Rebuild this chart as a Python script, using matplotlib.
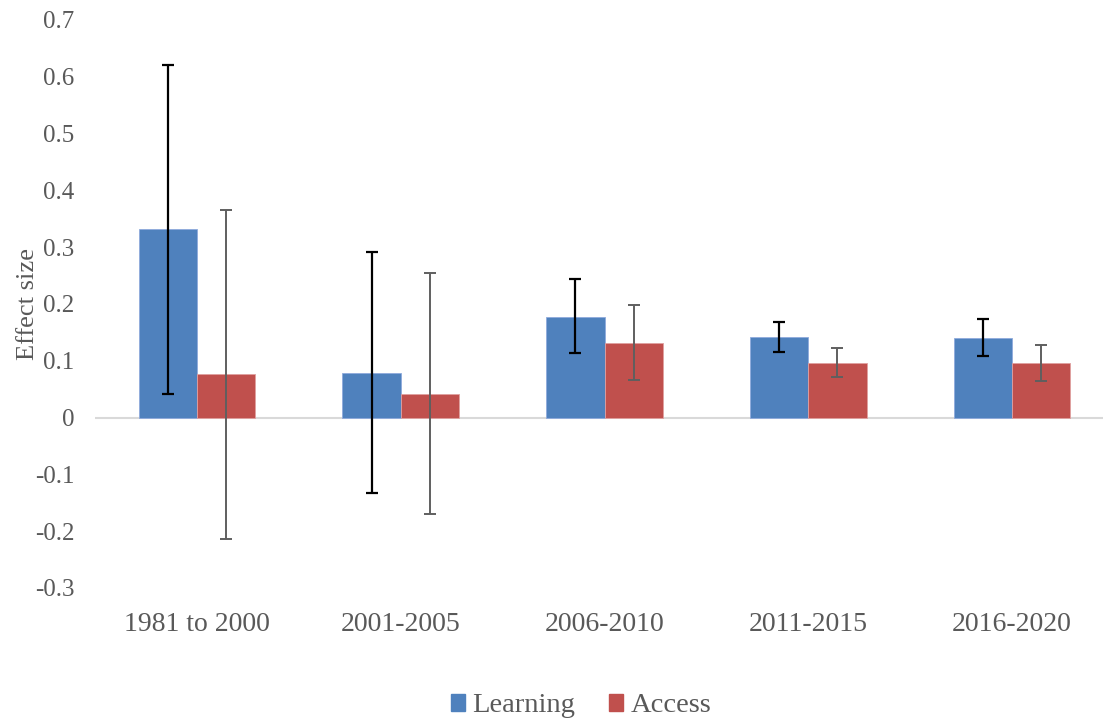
import matplotlib
matplotlib.use("Agg")
import matplotlib.pyplot as plt
import numpy as np
from matplotlib.patches import Patch

categories = ["1981 to 2000", "2001-2005", "2006-2010", "2011-2015", "2016-2020"]
learning = [0.332, 0.079, 0.177, 0.142, 0.141]
learning_hi = [0.621, 0.291, 0.244, 0.168, 0.174]
learning_lo = [0.042, -0.132, 0.113, 0.116, 0.109]
access = [0.076, 0.041, 0.132, 0.096, 0.096]
access_hi = [0.366, 0.255, 0.198, 0.123, 0.128]
access_lo = [-0.214, -0.170, 0.067, 0.071, 0.064]
yticks = [-0.3, -0.2, -0.1, 0, 0.1, 0.2, 0.3, 0.4, 0.5, 0.6, 0.7]
ytick_labels = ["-0.3", "-0.2", "-0.1", "0", "0.1", "0.2", "0.3", "0.4", "0.5", "0.6", "0.7"]

plt.rcParams['font.family'] = ['Liberation Serif', 'DejaVu Serif']
text_color = "#595959"
blue = "#4F81BD"
red = "#C0504D"

fig = plt.figure(figsize=(11.03, 7.21), dpi=100)
ax = fig.add_axes([95/1103, 1-588/721, 1019/1103, (588-20)/721])

x = np.arange(len(categories))
w = 0.286
L = np.array(learning); A = np.array(access)
Lerr = [L - np.array(learning_lo), np.array(learning_hi) - L]
Aerr = [A - np.array(access_lo), np.array(access_hi) - A]

ax.axhline(0, color="#D9D9D9", lw=1.5, zorder=1)
ax.bar(x - w/2, L, w, color=blue, edgecolor="#8FAADC", linewidth=0.6, zorder=2, label="Learning")
ax.bar(x + w/2, A, w, color=red, edgecolor="#E0A0A0", linewidth=0.6, zorder=2, label="Access")
ax.errorbar(x - w/2, L, yerr=Lerr, fmt="none", ecolor="black", elinewidth=1.6,
            capsize=4.2, capthick=1.6, zorder=3)
ax.errorbar(x + w/2, A, yerr=Aerr, fmt="none", ecolor="#5F5F5F", elinewidth=1.4,
            capsize=4.2, capthick=1.4, zorder=3)

ax.set_xlim(-0.5, 4.5)
ax.set_ylim(-0.3, 0.7)
ax.set_yticks(yticks)
ax.set_yticklabels(ytick_labels)
ax.set_xticks(x)
ax.set_xticklabels(categories)
for s in ax.spines.values():
    s.set_visible(False)
ax.tick_params(axis="y", length=0, pad=15, labelsize=18, labelcolor=text_color)
ax.tick_params(axis="x", length=0, pad=17, labelsize=20, labelcolor=text_color)
ax.set_ylabel("Effect size", fontsize=19, color=text_color, labelpad=-3)

handles = [Patch(color=blue, label="Learning"), Patch(color=red, label="Access")]
fig.legend(handles=handles, loc="center", bbox_to_anchor=(581/1103, 1-706/721),
           ncol=2, frameon=False, fontsize=20.5, handlelength=0.5, handleheight=0.5,
           handletextpad=0.25, columnspacing=1.2, labelcolor=text_color)

fig.savefig("out.png", dpi=100)
